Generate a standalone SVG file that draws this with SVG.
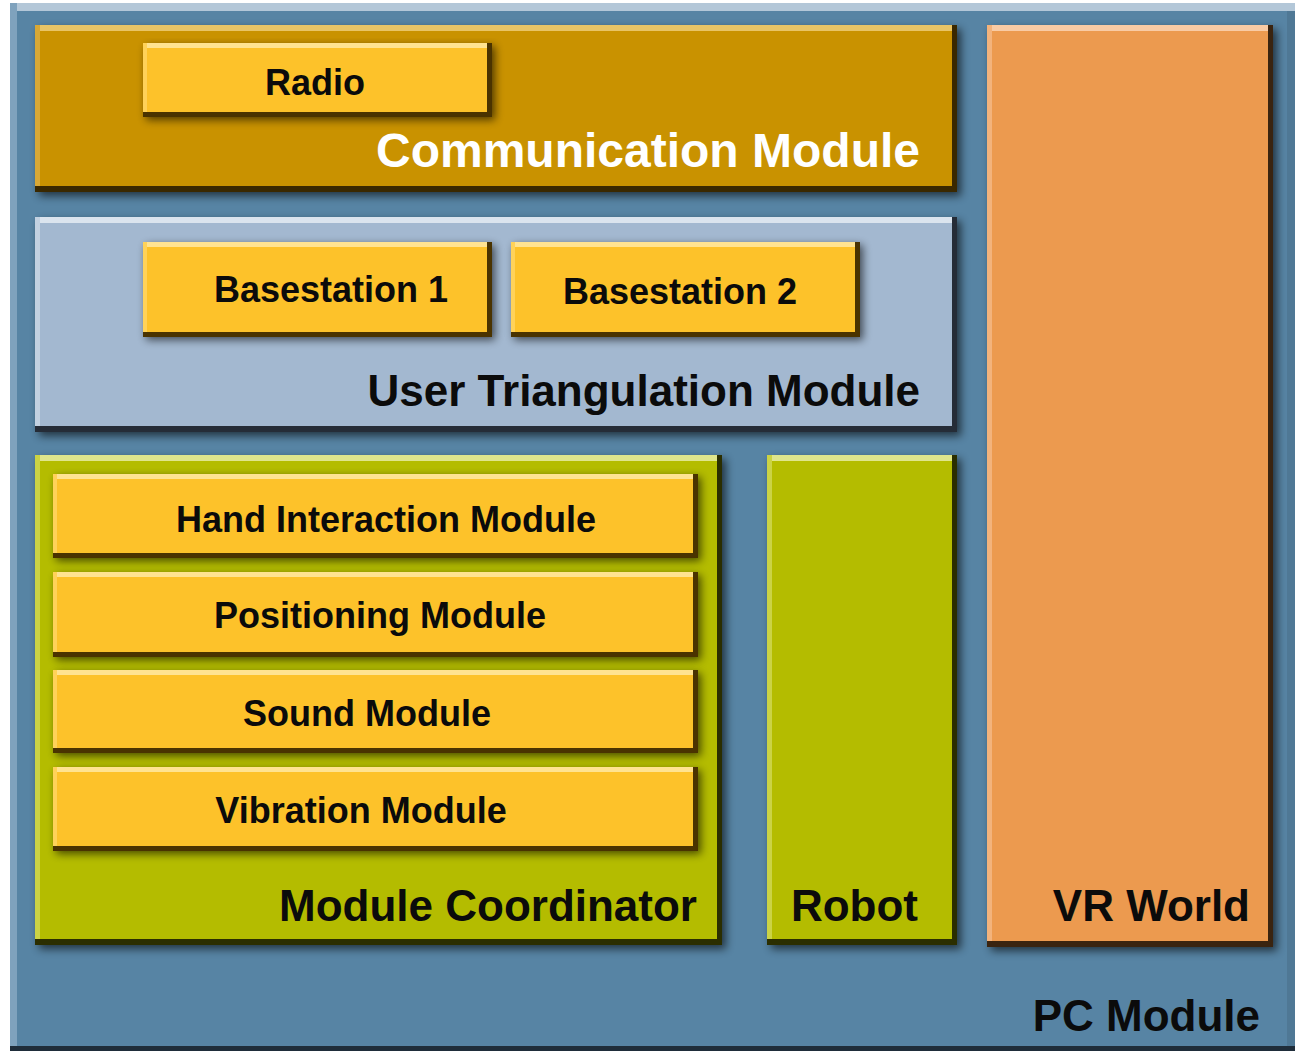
<svg xmlns="http://www.w3.org/2000/svg" width="1295" height="1054" viewBox="0 0 1295 1054">
  <defs>
    <filter id="soft" x="-10%" y="-10%" width="130%" height="130%">
      <feGaussianBlur stdDeviation="4"/>
    </filter>
    <style>
      .lbl { font-family: "Liberation Sans", Arial, Helvetica, sans-serif; font-weight: bold; fill: #0b0b0b; }
      .big { font-size: 44px; }
      .small { font-size: 36px; }
      .shadow { fill: #000; opacity: 0.6; filter: url(#soft); }
      /* PC module */
      .pc-main { fill: #5784a4; } .pc-top { fill: #b3c7d8; } .pc-left { fill: #7fa2bd; } .pc-dark { fill: #1f2d3a; }
      /* communication module */
      .cm-main { fill: #c99200; } .cm-top { fill: #e8c466; } .cm-left { fill: #d8a836; } .cm-dark { fill: #3a2800; }
      /* yellow sub-blocks */
      .yl-main { fill: #fdc22a; } .yl-top { fill: #ffe391; } .yl-left { fill: #ffd259; } .yl-dark { fill: #4a3300; }
      /* triangulation module */
      .ut-main { fill: #a3b8d0; } .ut-top { fill: #dbe4ee; } .ut-left { fill: #c2d1e1; } .ut-dark { fill: #252c37; }
      /* green blocks */
      .gr-main { fill: #b4bc00; } .gr-top { fill: #dfe58c; } .gr-left { fill: #cbd345; } .gr-dark { fill: #2b2e00; }
      /* VR world */
      .or-main { fill: #ec9a4f; } .or-top { fill: #f9cba4; } .or-left { fill: #f3b37c; } .or-dark { fill: #3a2410; }
    </style>
  </defs>

  <rect x="0" y="0" width="1295" height="1054" fill="#ffffff"/>

  <!-- PC Module (outer frame) -->
  <g id="pc-module">
    <rect class="pc-dark" x="10" y="3" width="1290" height="1048"/>
    <rect class="pc-main" x="10" y="3" width="1290" height="1043"/>
    <rect x="1287" y="11" width="8" height="1035" fill="#4f7895"/>
    <rect class="pc-top" x="10" y="3" width="1290" height="8"/>
    <rect class="pc-left" x="10" y="3" width="7" height="1043"/>
    <text class="lbl big" x="1260" y="1031" text-anchor="end">PC Module</text>
  </g>

  <!-- Communication Module -->
  <g id="communication-module">
    <rect class="shadow" x="39" y="29" width="922" height="167"/>
    <rect class="cm-dark" x="35" y="25" width="922" height="167"/>
    <rect class="cm-main" x="35" y="25" width="917" height="161"/>
    <rect class="cm-top" x="35" y="25" width="917" height="6"/>
    <rect class="cm-left" x="35" y="25" width="5" height="161"/>
    <text class="lbl" x="920" y="167" text-anchor="end" font-size="48" style="fill:#ffffff">Communication Module</text>
  </g>

  <g id="radio">
    <rect class="shadow" x="146" y="46" width="349" height="74"/>
    <rect class="yl-dark" x="143" y="43" width="349" height="74"/>
    <rect class="yl-main" x="143" y="43" width="344" height="69"/>
    <rect class="yl-top" x="143" y="43" width="344" height="5"/>
    <rect class="yl-left" x="143" y="43" width="4" height="69"/>
    <text class="lbl small" x="315" y="95" text-anchor="middle">Radio</text>
  </g>

  <!-- User Triangulation Module -->
  <g id="user-triangulation-module">
    <rect class="shadow" x="39" y="221" width="922" height="215"/>
    <rect class="ut-dark" x="35" y="217" width="922" height="215"/>
    <rect class="ut-main" x="35" y="217" width="917" height="209"/>
    <rect class="ut-top" x="35" y="217" width="917" height="6"/>
    <rect class="ut-left" x="35" y="217" width="5" height="209"/>
    <text class="lbl big" x="920" y="406" text-anchor="end">User Triangulation Module</text>
  </g>

  <g id="basestation-1">
    <rect class="shadow" x="146" y="245" width="349" height="95"/>
    <rect class="yl-dark" x="143" y="242" width="349" height="95"/>
    <rect class="yl-main" x="143" y="242" width="344" height="90"/>
    <rect class="yl-top" x="143" y="242" width="344" height="5"/>
    <rect class="yl-left" x="143" y="242" width="4" height="90"/>
    <text class="lbl small" x="331" y="302" text-anchor="middle">Basestation 1</text>
  </g>

  <g id="basestation-2">
    <rect class="shadow" x="514" y="245" width="349" height="95"/>
    <rect class="yl-dark" x="511" y="242" width="349" height="95"/>
    <rect class="yl-main" x="511" y="242" width="344" height="90"/>
    <rect class="yl-top" x="511" y="242" width="344" height="5"/>
    <rect class="yl-left" x="511" y="242" width="4" height="90"/>
    <text class="lbl small" x="680" y="304" text-anchor="middle">Basestation 2</text>
  </g>

  <!-- Module Coordinator -->
  <g id="module-coordinator">
    <rect class="shadow" x="39" y="459" width="687" height="490"/>
    <rect class="gr-dark" x="35" y="455" width="687" height="490"/>
    <rect class="gr-main" x="35" y="455" width="682" height="484"/>
    <rect class="gr-top" x="35" y="455" width="682" height="6"/>
    <rect class="gr-left" x="35" y="455" width="5" height="484"/>
    <text class="lbl big" x="697" y="921" text-anchor="end">Module Coordinator</text>
  </g>

  <g id="hand-interaction-module">
    <rect class="shadow" x="56" y="477" width="645" height="84"/>
    <rect class="yl-dark" x="53" y="474" width="645" height="84"/>
    <rect class="yl-main" x="53" y="474" width="640" height="79"/>
    <rect class="yl-top" x="53" y="474" width="640" height="5"/>
    <rect class="yl-left" x="53" y="474" width="4" height="79"/>
    <text class="lbl small" x="386" y="532" text-anchor="middle">Hand Interaction Module</text>
  </g>

  <g id="positioning-module">
    <rect class="shadow" x="56" y="575" width="645" height="85"/>
    <rect class="yl-dark" x="53" y="572" width="645" height="85"/>
    <rect class="yl-main" x="53" y="572" width="640" height="80"/>
    <rect class="yl-top" x="53" y="572" width="640" height="5"/>
    <rect class="yl-left" x="53" y="572" width="4" height="80"/>
    <text class="lbl small" x="380" y="628" text-anchor="middle">Positioning Module</text>
  </g>

  <g id="sound-module">
    <rect class="shadow" x="56" y="673" width="645" height="83"/>
    <rect class="yl-dark" x="53" y="670" width="645" height="83"/>
    <rect class="yl-main" x="53" y="670" width="640" height="78"/>
    <rect class="yl-top" x="53" y="670" width="640" height="5"/>
    <rect class="yl-left" x="53" y="670" width="4" height="78"/>
    <text class="lbl small" x="367" y="726" text-anchor="middle">Sound Module</text>
  </g>

  <g id="vibration-module">
    <rect class="shadow" x="56" y="770" width="645" height="84"/>
    <rect class="yl-dark" x="53" y="767" width="645" height="84"/>
    <rect class="yl-main" x="53" y="767" width="640" height="79"/>
    <rect class="yl-top" x="53" y="767" width="640" height="5"/>
    <rect class="yl-left" x="53" y="767" width="4" height="79"/>
    <text class="lbl small" x="361" y="823" text-anchor="middle">Vibration Module</text>
  </g>

  <!-- Robot -->
  <g id="robot">
    <rect class="shadow" x="771" y="459" width="190" height="490"/>
    <rect class="gr-dark" x="767" y="455" width="190" height="490"/>
    <rect class="gr-main" x="767" y="455" width="185" height="484"/>
    <rect class="gr-top" x="767" y="455" width="185" height="6"/>
    <rect class="gr-left" x="767" y="455" width="5" height="484"/>
    <text class="lbl big" x="918" y="921" text-anchor="end">Robot</text>
  </g>

  <!-- VR World -->
  <g id="vr-world">
    <rect class="shadow" x="991" y="29" width="286" height="922"/>
    <rect class="or-dark" x="987" y="25" width="286" height="922"/>
    <rect class="or-main" x="987" y="25" width="281" height="916"/>
    <rect class="or-top" x="987" y="25" width="281" height="6"/>
    <rect class="or-left" x="987" y="25" width="5" height="916"/>
    <text class="lbl big" x="1250" y="921" text-anchor="end">VR World</text>
  </g>

  <!-- no connectors in this diagram -->
  <g id="connectors"/>
</svg>
